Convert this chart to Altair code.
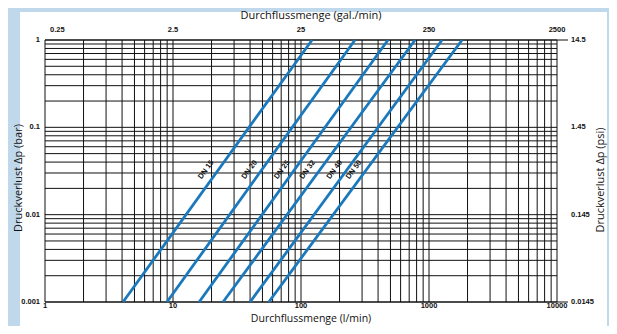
import math
import altair as alt
import pandas as pd

# ---- data ----
dn_labels = ["DN 15", "DN 20", "DN 25", "DN 32", "DN 40", "DN 50"]
q_at_min_dp = [4.07, 8.97, 16.0, 24.6, 40.0, 56.0]       # l/min at 0.001 bar
q_at_max_dp = [122.0, 264.0, 478.0, 778.0, 1265.0, 1812.0]  # l/min at 1 bar
dp_min, dp_max = 0.001, 1.0

x_decades = [1, 10, 100, 1000, 10000]
lmin_labels = ["1", "10", "100", "1000", "10000"]
gal_labels = ["0.25", "2.5", "25", "250", "2500"]
y_decades = [0.001, 0.01, 0.1, 1]
bar_labels = ["0.001", "0.01", "0.1", "1"]
psi_labels = ["0.0145", "0.145", "1.45", "14.5"]
minor_mult = [1, 2, 3, 4, 5, 6, 7, 8, 9]
label_dp = 0.028

BLUE = "#1a78bd"
BG = "#bfd8ec"
FONT = "Open Sans"
LFONT = "Liberation Sans"

# ---- tables ----
x_grid = [m * d for d in x_decades[:-1] for m in minor_mult] + [x_decades[-1]]
y_grid = [m * d for d in y_decades[:-1] for m in minor_mult] + [y_decades[-1]]

lines_df = pd.DataFrame(
    [{"dn": n, "q": a, "dp": dp_min} for n, a in zip(dn_labels, q_at_min_dp)]
    + [{"dn": n, "q": b, "dp": dp_max} for n, b in zip(dn_labels, q_at_max_dp)]
)
frac = math.log10(label_dp / dp_min) / math.log10(dp_max / dp_min)
lab_df = pd.DataFrame({
    "dn": dn_labels,
    "q": [a * (b / a) ** frac for a, b in zip(q_at_min_dp, q_at_max_dp)],
    "dp": [label_dp] * len(dn_labels),
})
top_df = pd.DataFrame({"q": x_decades, "lab": gal_labels})
bottom_df = pd.DataFrame({"q": x_decades, "lab": lmin_labels})
right_df = pd.DataFrame({"dp": y_decades, "lab": psi_labels})
left_df = pd.DataFrame({"dp": y_decades, "lab": bar_labels})
vdf = pd.DataFrame({"q": x_grid})
hdf = pd.DataFrame({"dp": y_grid})
edge_df = pd.DataFrame({"dp": [dp_min, dp_max]})
one = pd.DataFrame({"a": [0]})

xs = alt.Scale(type="log", domain=[x_decades[0], x_decades[-1]], nice=False)
ys = alt.Scale(type="log", domain=[dp_min, dp_max], nice=False)

bg = alt.Chart(one).mark_rect(color="white").encode(
    x=alt.value(-25), x2=alt.value(562), y=alt.value(-28), y2=alt.value(292)
)

vgrid = alt.Chart(vdf).mark_rule(color="#111", strokeWidth=1).encode(
    x=alt.X("q:Q", scale=xs, axis=None),
    y=alt.value(0), y2=alt.value(262),
)

hgrid = alt.Chart(hdf).mark_rule(color="#111", strokeWidth=1).encode(
    y=alt.Y("dp:Q", scale=ys, axis=None),
    x=alt.value(0), x2=alt.value(512),
)

edges = alt.Chart(edge_df).mark_rule(color="#111", strokeWidth=1).encode(
    y=alt.Y("dp:Q", scale=ys, axis=None), x=alt.value(0), x2=alt.value(523)
)

lines = alt.Chart(lines_df).mark_line(color=BLUE, strokeWidth=2.8).encode(
    x=alt.X("q:Q", scale=xs, axis=None),
    y=alt.Y("dp:Q", scale=ys, axis=None),
    detail="dn:N",
)

dn_text = alt.Chart(lab_df).mark_text(
    angle=306, font=LFONT, fontWeight="bold", fontSize=7.5, color="#111",
    baseline="middle", align="center", dy=-10,
).encode(
    x=alt.X("q:Q", scale=xs, axis=None),
    y=alt.Y("dp:Q", scale=ys, axis=None),
    text="dn:N",
)

TK = dict(font=LFONT, fontWeight="bold", fontSize=7.5, color="#111")

top_first = alt.Chart(top_df).transform_filter(alt.datum.q == x_decades[0]).mark_text(
    align="left", baseline="middle", dx=5, **TK,
).encode(x=alt.X("q:Q", scale=xs, axis=None), y=alt.value(-10), text="lab:N")

top_rest = alt.Chart(top_df).transform_filter(alt.datum.q > x_decades[0]).mark_text(
    align="center", baseline="middle", **TK,
).encode(x=alt.X("q:Q", scale=xs, axis=None), y=alt.value(-10), text="lab:N")

bottom_txt = alt.Chart(bottom_df).mark_text(
    align="center", baseline="middle", **TK,
).encode(x=alt.X("q:Q", scale=xs, axis=None), y=alt.value(266), text="lab:N")

left_txt = alt.Chart(left_df).mark_text(
    align="right", baseline="middle", **TK,
).encode(y=alt.Y("dp:Q", scale=ys, axis=None), x=alt.value(-5), text="lab:N")

right_txt = alt.Chart(right_df).mark_text(
    align="left", baseline="middle", **TK,
).encode(y=alt.Y("dp:Q", scale=ys, axis=None), x=alt.value(526), text="lab:N")

def title_mark(txt, x, y, angle=0, size=11):
    kw = dict(font=FONT, fontSize=size, color="#111", align="center",
              baseline="alphabetic")
    if angle:
        kw["angle"] = angle
    return alt.Chart(one).mark_text(text=txt, **kw).encode(
        x=alt.value(x), y=alt.value(y))

t_top = title_mark("Durchflussmenge (gal./min)", 266, -21)
t_bottom = title_mark("Durchflussmenge (l/min)", 266, 282, size=10.5)
t_left = title_mark("Druckverlust Δp (bar)", -23, 138, 270)
t_right = title_mark("Druckverlust Δp (psi)", 559, 140, 270)

chart = alt.layer(
    bg, vgrid, hgrid, edges, lines, dn_text, top_first, top_rest, bottom_txt,
    left_txt, right_txt, t_top, t_bottom, t_left, t_right,
).properties(
    width=512, height=262,
    autosize=alt.AutoSizeParams(type="none"),
    padding={"left": 37, "top": 32, "right": 52, "bottom": 24},
    background=BG,
).configure_view(stroke=None)

chart.save("out.html", embed_options={"renderer": "svg", "actions": False})
